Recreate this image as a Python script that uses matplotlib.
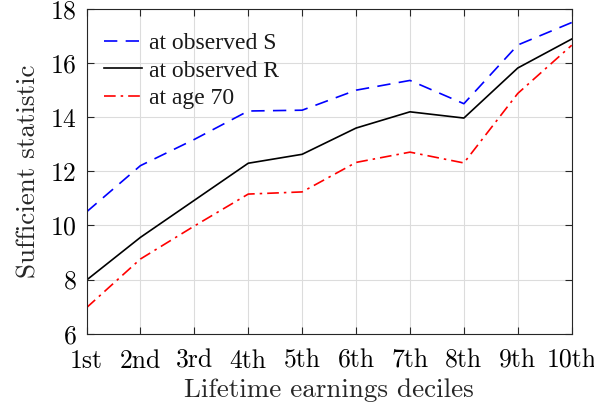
import matplotlib
matplotlib.use("Agg")
import matplotlib.pyplot as plt

plt.rcParams['font.family'] = ['cmr10', 'DejaVu Serif']
plt.rcParams['axes.formatter.use_mathtext'] = True
plt.rcParams['mathtext.fontset'] = 'cm'

# data
deciles = ['1st', '2nd', '3rd', '4th', '5th', '6th', '7th', '8th', '9th', '10th']
at_obs_S = [10.5, 12.21, 13.18, 14.23, 14.26, 15.0, 15.36, 14.5, 16.67, 17.5]
at_obs_R = [7.98, 9.56, 10.93, 12.3, 12.63, 13.6, 14.2, 13.97, 15.82, 16.89]
at_age70 = [6.96, 8.76, 9.98, 11.16, 11.24, 12.33, 12.71, 12.31, 14.88, 16.66]
yticks = [6, 8, 10, 12, 14, 16, 18]

x = list(range(1, len(deciles) + 1))

fig = plt.figure(figsize=(5.94, 4.12), dpi=100)
ax = fig.add_axes([86.5 / 594, 1 - 333.7 / 412, (571.7 - 86.5) / 594, (333.7 - 9) / 412])

ax.plot(x, at_obs_S, color='#0000ff', ls=(0, (8, 5)), lw=1.2, label='at observed S')
ax.plot(x, at_obs_R, color='black', ls='-', lw=1.2, label='at observed R')
ax.plot(x, at_age70, color='#ff0000', ls=(0, (7, 3, 1.5, 3)), lw=1.2, label='at age 70')

ax.set_xlim(1, 10)
ax.set_ylim(6, 18)
ax.set_xticks(x)
ax.set_xticklabels(deciles)
ax.set_yticks(yticks)
ax.grid(True, color='#dcdcdc', lw=0.8)
ax.set_axisbelow(True)
ax.tick_params(direction='in', top=True, right=True, labelsize=18.5, length=5, width=0.8, color='#262626')
ax.tick_params(axis='x', pad=11)
ax.tick_params(axis='y', pad=7)
for s in ax.spines.values():
    s.set_color('#262626')
    s.set_linewidth(0.8)

ax.set_xlabel('Lifetime earnings deciles', fontsize=19.5, color='#262626', labelpad=4)
ax.set_ylabel('Sufficient statistic', fontsize=19.5, color='#262626', labelpad=7)

leg = ax.legend(loc='upper left', bbox_to_anchor=(-0.012, 1.0), frameon=False,
                prop={'family': 'Liberation Serif', 'size': 17},
                handlelength=1.6, handletextpad=0.3, labelspacing=0.25,
                borderaxespad=0.6, borderpad=0.4)
for t in leg.get_texts():
    t.set_color('#1a1a1a')

fig.savefig('out.png', dpi=100)
